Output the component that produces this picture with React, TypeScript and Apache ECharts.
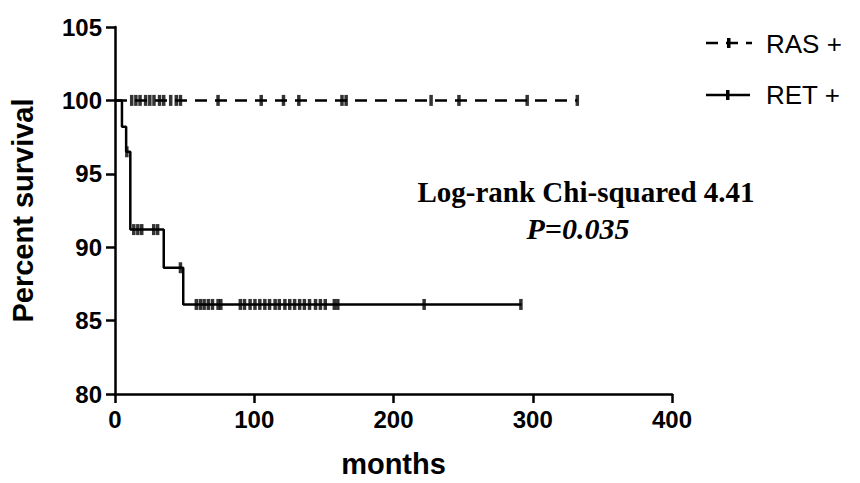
import React, { useEffect, useRef } from "react";
import * as echarts from "echarts";

// RET + Kaplan-Meier steps: [months, percent survival]
const retTimes = [0, 5, 8, 11, 35, 49, 292];
const retSurvival = [100, 98.2, 96.5, 91.2, 88.6, 86.1, 86.1];
// RET + censored observations
const retCensorTimes = [8.5, 13.5, 16.4, 19.2, 27.8, 30.6, 47, 58.4, 61.3, 64, 67, 70, 74, 76, 90, 93, 97, 100.5, 104, 107.6, 111, 115, 118, 122, 125.5, 129, 132.6, 136, 139.7, 144, 147.5, 151, 157.5, 160, 222, 291.5];
const retCensorSurvival = [96.5, 91.2, 91.2, 91.2, 91.2, 91.2, 88.6, 86.1, 86.1, 86.1, 86.1, 86.1, 86.1, 86.1, 86.1, 86.1, 86.1, 86.1, 86.1, 86.1, 86.1, 86.1, 86.1, 86.1, 86.1, 86.1, 86.1, 86.1, 86.1, 86.1, 86.1, 86.1, 86.1, 86.1, 86.1, 86.1];

// RAS + : no events
const rasTimes = [0, 332];
const rasSurvival = [100, 100];
const rasCensorTimes = [12, 15, 18, 22, 25, 28, 32, 35, 40, 44, 47, 74, 105, 121, 132, 163, 166, 227, 247, 296, 332];

const yTicks = [80, 85, 90, 95, 100, 105];
const xTicks = [0, 100, 200, 300, 400];

export default function App() {
  const ref = useRef<HTMLDivElement>(null);
  useEffect(() => {
    if (!ref.current) return;
    const chart = echarts.init(ref.current, undefined, { renderer: "svg" });
    const font = "'Liberation Sans', Arial, sans-serif";
    const serif = "'Liberation Serif', 'Times New Roman', serif";
    const retLine = retTimes.map((t, i) => [t, retSurvival[i]]);
    const rasLine = rasTimes.map((t, i) => [t, rasSurvival[i]]);
    const retCens = retCensorTimes.map((t, i) => [t, retCensorSurvival[i]]);
    const rasCens = rasCensorTimes.map((t) => [t, 100]);
    chart.setOption({
      animation: false,
      backgroundColor: "#fff",
      grid: { left: 111, right: 188, top: 27, bottom: 82, containLabel: false },
      xAxis: {
        type: "value",
        min: xTicks[0],
        max: xTicks[xTicks.length - 1],
        interval: 100,
        name: "months",
        nameLocation: "middle",
        nameGap: 55,
        nameTextStyle: { fontFamily: font, fontSize: 29, fontWeight: "bold", color: "#000" },
        axisLine: { show: true, onZero: false, lineStyle: { color: "#000", width: 2.5 } },
        axisTick: { show: true, length: 9, lineStyle: { color: "#000", width: 2.5 } },
        axisLabel: { fontFamily: font, fontSize: 24, fontWeight: "bold", color: "#000", margin: 13 },
        splitLine: { show: false },
      },
      yAxis: {
        type: "value",
        min: yTicks[0],
        max: yTicks[yTicks.length - 1],
        interval: 5,
        name: "Percent survival",
        nameLocation: "middle",
        nameGap: 78,
        nameTextStyle: { fontFamily: font, fontSize: 29, fontWeight: "bold", color: "#000" },
        axisLine: { show: true, lineStyle: { color: "#000", width: 2.5 } },
        axisTick: { show: true, length: 9, lineStyle: { color: "#000", width: 2.5 } },
        axisLabel: { fontFamily: font, fontSize: 24, fontWeight: "bold", color: "#000", margin: 13 },
        splitLine: { show: false },
      },
      series: [
        {
          name: "RAS +",
          type: "line",
          step: "end",
          data: rasLine,
          symbol: "none",
          lineStyle: { color: "#000", width: 2.5, type: [12, 8] },
          z: 3,
        },
        {
          name: "RAS + censored",
          type: "scatter",
          data: rasCens,
          symbol: "rect",
          symbolSize: [3.5, 11],
          itemStyle: { color: "#000" },
          z: 4,
        },
        {
          name: "RET +",
          type: "line",
          step: "end",
          data: retLine,
          symbol: "none",
          lineStyle: { color: "#000", width: 2.5 },
          z: 3,
        },
        {
          name: "RET + censored",
          type: "scatter",
          data: retCens,
          symbol: "rect",
          symbolSize: [3.5, 11],
          itemStyle: { color: "#000" },
          z: 4,
        },
      ],
      graphic: [
        { type: "line", shape: { x1: 706, y1: 43, x2: 752, y2: 43 }, style: { stroke: "#000", lineWidth: 2.5, lineDash: [12, 8] } },
        { type: "rect", shape: { x: 727, y: 38, width: 3.5, height: 10 }, style: { fill: "#000" } },
        { type: "text", x: 766, y: 44, style: { text: "RAS +", font: `26px ${font}`, fill: "#000", verticalAlign: "middle" } },
        { type: "line", shape: { x1: 706, y1: 95, x2: 750, y2: 95 }, style: { stroke: "#000", lineWidth: 2.5 } },
        { type: "rect", shape: { x: 726, y: 90, width: 3.5, height: 10 }, style: { fill: "#000" } },
        { type: "text", x: 766, y: 95, style: { text: "RET +", font: `26px ${font}`, fill: "#000", verticalAlign: "middle" } },
        { type: "text", x: 586, y: 192, style: { text: "Log-rank Chi-squared 4.41", font: `bold 29px ${serif}`, fill: "#000", align: "center", verticalAlign: "middle" } },
        { type: "text", x: 578, y: 228, style: { text: "P=0.035", font: `italic bold 30px ${serif}`, fill: "#000", align: "center", verticalAlign: "middle" } },
      ],
    });
    return () => chart.dispose();
  }, []);
  return <div ref={ref} style={{ position: "absolute", left: 0, top: 0, width: 860, height: 483 }} />;
}
